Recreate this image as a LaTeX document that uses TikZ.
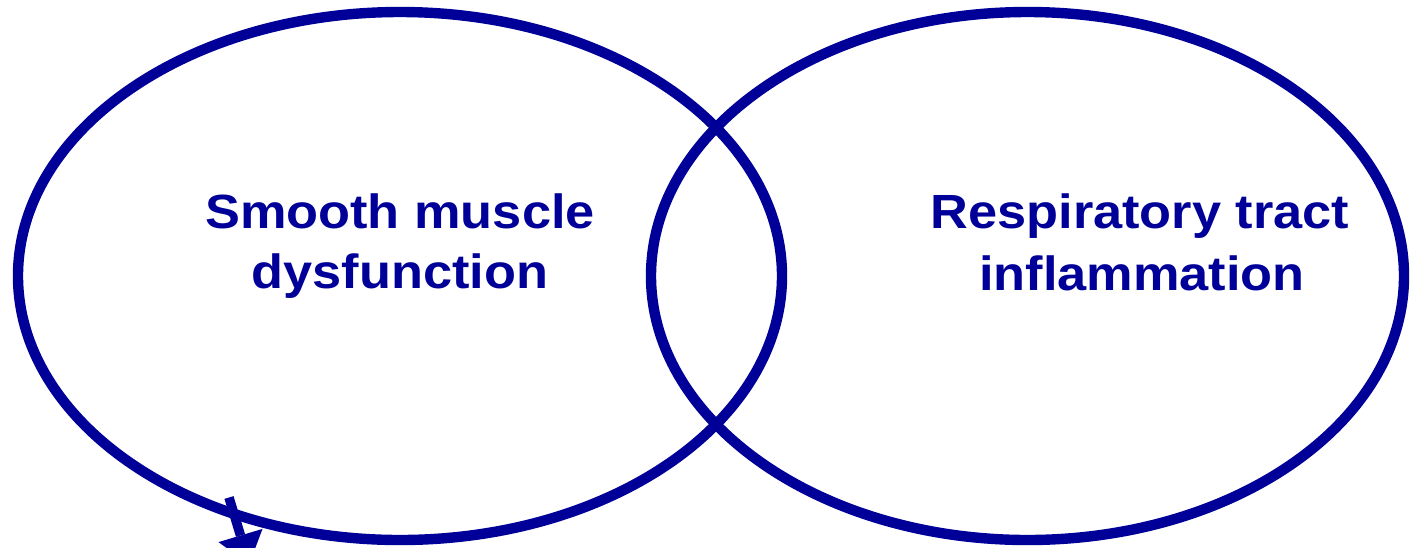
\documentclass[tikz,border=0pt]{standalone}
\usepackage{fontspec}
\setmainfont{Liberation Sans}
\usepackage{graphicx}
\definecolor{vblue}{RGB}{0,0,153}
\tikzset{
  ring/.style={draw=vblue, line width=5.2pt},
  lbl/.style={text=vblue, font=\bfseries\fontsize{24}{28}\selectfont, inner sep=0pt, anchor=base},
  shaft/.style={draw=vblue, line width=4.75pt, line cap=butt},
  head/.style={fill=vblue, draw=none}
}
\newcommand{\wide}[1]{\scalebox{1.09}[1]{#1}}
\begin{document}
\begin{tikzpicture}[x=0.5pt, y=-0.5pt]
\useasboundingbox (0,0) rectangle (1412,547);
% ellipses
\draw[ring] (400,276) ellipse [x radius=382, y radius=264];
\draw[ring] (1027.5,276) ellipse [x radius=376.5, y radius=264];
% labels
\node[lbl] (l1) at (400,228) {\wide{Smooth muscle}};
\node[lbl] (l2) at (400,288) {\wide{dysfunction}};
\node[lbl] (r1) at (1140,228) {\wide{Respiratory tract}};
\node[lbl] (r2) at (1142,290) {\wide{inflammation}};
% arrow (cut off at bottom edge)
\coordinate (astart) at (229,497.5);
\coordinate (abase) at (240.5,535.5);
\coordinate (aleft) at (218.5,542.1);
\coordinate (aright) at (262.5,528.9);
\coordinate (atip) at (249.2,564.2);
\draw[shaft] (astart) -- (abase);
\fill[head] (aleft) -- (aright) -- (atip) -- cycle;
\end{tikzpicture}
\end{document}
